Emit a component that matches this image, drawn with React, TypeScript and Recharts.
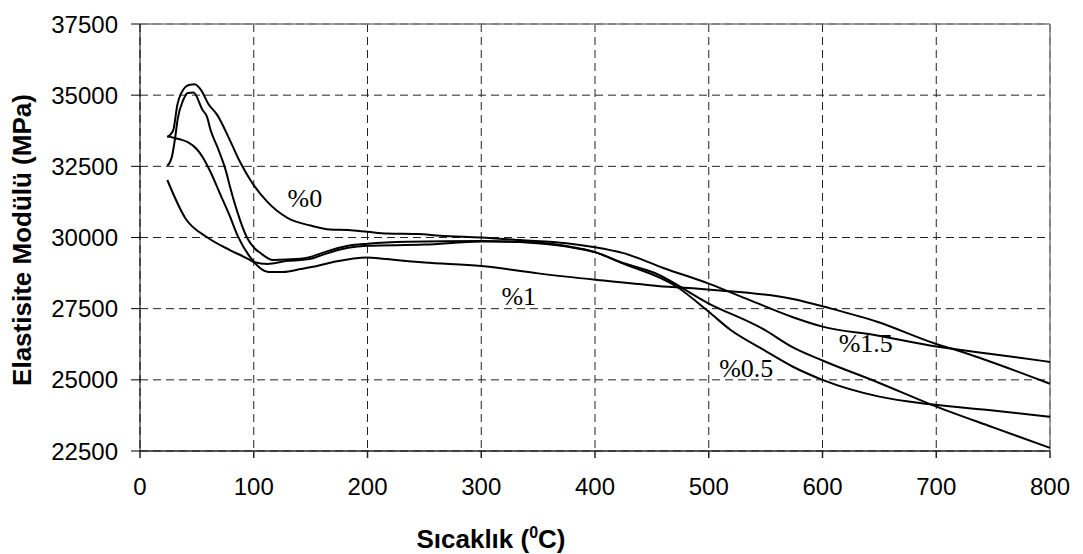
import {
  LineChart,
  Line,
  XAxis,
  YAxis,
  CartesianGrid,
  ReferenceLine,
  ReferenceDot,
  Label,
} from "recharts";

// axis ticks
const xTicks = [0, 100, 200, 300, 400, 500, 600, 700, 800];
const yTicks = [22500, 25000, 27500, 30000, 32500, 35000, 37500];

// curves: [temperature, modulus]
const curve0: [number, number][] = [
  [24, 33530], [29, 33740], [33, 34690], [40, 35290], [44, 35370], [48, 35380],
  [54, 35160], [60, 34700], [68, 34300], [79, 33420], [88, 32650], [97, 32020],
  [112, 31250], [130, 30680], [150, 30420], [167, 30280], [183, 30260], [200, 30200],
  [217, 30140], [244, 30120], [264, 30060], [300, 30000], [334, 29910], [375, 29800],
  [400, 29660], [425, 29450], [460, 28930], [500, 28380], [536, 27800], [574, 27200],
  [600, 26870], [648, 26560], [700, 26170], [714, 26090], [750, 25900], [800, 25630],
];

const curve15: [number, number][] = [
  [24, 32520], [28, 32830], [31, 33530], [33, 34130], [38, 34830], [42, 35080],
  [47, 35090], [55, 34480], [59, 34230], [62, 33780], [68, 33180], [76, 32270],
  [79, 31800], [85, 30970], [94, 30000], [100, 29650], [106, 29450], [117, 29210],
  [141, 29250], [150, 29320], [161, 29470], [183, 29710], [200, 29780], [235, 29850],
  [300, 29880], [334, 29840], [375, 29680], [402, 29460], [422, 29140], [452, 28760],
  [500, 27680], [548, 26780], [574, 26140], [600, 25680], [650, 24890], [695, 24140],
  [750, 23330], [800, 22610],
];

const curve1: [number, number][] = [
  [24, 33560], [35, 33450], [42, 33350], [50, 33100], [55, 32830], [62, 32300],
  [70, 31570], [79, 30750], [86, 30050], [97, 29300], [113, 28790], [126, 28790],
  [141, 28890], [152, 28970], [170, 29140], [200, 29300], [211, 29260], [250, 29120],
  [300, 29000], [350, 28740], [402, 28510], [455, 28300], [504, 28160], [574, 27840],
  [607, 27510], [648, 27040], [700, 26260], [714, 26090], [800, 24860],
];

const curve05: [number, number][] = [
  [24, 32020], [40, 30670], [59, 30010], [79, 29560], [94, 29270], [100, 29140],
  [112, 29070], [130, 29180], [141, 29210], [150, 29250], [161, 29400], [183, 29640],
  [200, 29710], [250, 29750], [300, 29860], [334, 29850], [375, 29700], [402, 29460],
  [422, 29130], [472, 28270], [500, 27390], [519, 26760], [548, 26060], [574, 25460],
  [600, 25000], [650, 24410], [695, 24140], [750, 23920], [800, 23700],
];

// text labels written on the plot: [text, temperature, modulus]
const curveLabels: [string, number, number][] = [
  ["%0", 145, 31390],
  ["%1", 333, 27950],
  ["%0.5", 533, 25420],
  ["%1.5", 638, 26300],
];

const series = [
  { name: "%0", points: curve0 },
  { name: "%1.5", points: curve15 },
  { name: "%1", points: curve1 },
  { name: "%0.5", points: curve05 },
];

const sans = "'Liberation Sans', Arial, sans-serif";
const serif = "'Liberation Serif', 'Times New Roman', serif";

const App = () => {
  return (
    <div style={{ position: "absolute", left: 0, top: 0, background: "#fff" }}>
      <LineChart
        width={1083}
        height={554}
        margin={{ top: 24, right: 33, bottom: 0, left: 0 }}
      >
        <CartesianGrid stroke="#222" strokeDasharray="8 5" />
        <XAxis
          type="number"
          dataKey="x"
          domain={[0, 800]}
          ticks={xTicks}
          interval={0}
          height={103}
          tickSize={7}
          tickMargin={20}
          stroke="#222"
          strokeWidth={1.5}
          tick={{ fill: "#000", fontSize: 24, fontFamily: sans }}
        >
          <Label
            content={() => (
              <text
                x={491}
                y={548}
                textAnchor="middle"
                fontFamily={sans}
                fontWeight="bold"
                fontSize={26}
                fill="#000"
              >
                <tspan>Sıcaklık (</tspan>
                <tspan fontSize={16} dy={-10}>0</tspan>
                <tspan dy={10}>C)</tspan>
              </text>
            )}
          />
        </XAxis>
        <YAxis
          type="number"
          domain={[22500, 37500]}
          ticks={yTicks}
          interval={0}
          width={140}
          tickSize={9}
          tickMargin={13}
          stroke="#000"
          tick={{ fill: "#000", fontSize: 24, fontFamily: sans }}
        >
          <Label
            content={() => (
              <text
                x={22}
                y={240}
                transform="rotate(-90, 22, 240)"
                textAnchor="middle"
                dominantBaseline="central"
                fontFamily={sans}
                fontWeight="bold"
                fontSize={26}
                fill="#000"
              >
                Elastisite Modülü (MPa)
              </text>
            )}
          />
        </YAxis>
        <ReferenceLine y={37500} stroke="#808080" strokeWidth={1.5} />
        <ReferenceLine x={800} stroke="#808080" strokeWidth={1.5} />
        {series.map((s) => (
          <Line
            key={s.name}
            name={s.name}
            data={s.points.map(([x, y]) => ({ x, y }))}
            dataKey="y"
            type="monotone"
            stroke="#000"
            strokeWidth={2}
            dot={false}
            isAnimationActive={false}
          />
        ))}
        {curveLabels.map(([text, x, y]) => (
          <ReferenceDot
            key={text}
            x={x}
            y={y}
            r={0}
            fill="none"
            stroke="none"
            label={{
              value: text,
              position: "center",
              fontSize: 26,
              fontFamily: serif,
              fill: "#000",
            }}
          />
        ))}
      </LineChart>
    </div>
  );
};

export default App;
